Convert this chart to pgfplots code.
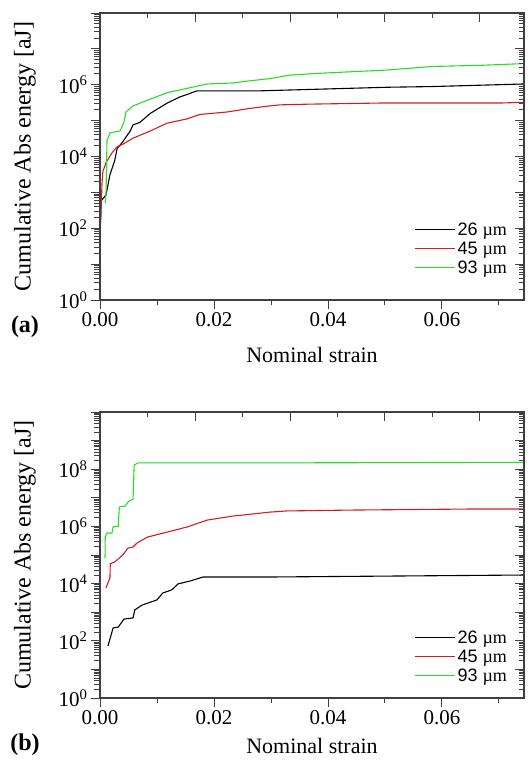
\documentclass[border=0pt]{standalone}
\usepackage{fontspec}
\setmainfont{Liberation Serif}
\newfontfamily\legfont{Liberation Sans}
\usepackage{pgfplots}
\pgfplotsset{compat=1.18}
\definecolor{cred}{RGB}{210,30,30}
\definecolor{cgreen}{RGB}{40,220,40}
\begin{document}
\begin{tikzpicture}
\path[use as bounding box] (-100pt,0pt) rectangle (427pt,770pt);
% ---------------- panel (a)
\begin{axis}[at={(0pt,470pt)}, anchor=south west,
  scale only axis, width=424pt, height=287pt,
  xmin=0, xmax=0.0744, ymode=log, ymin=1, ymax=1e8,
  axis line style={line width=1.1pt, black!75},
  every tick/.append style={line width=0.9pt, black!75},
  major tick length=9pt, minor tick length=5.5pt,
  tick label style={font=\fontsize{21}{24}\selectfont},
  xlabel style={font=\fontsize{22}{25}\selectfont},
  ylabel style={font=\fontsize{24}{27}\selectfont},
  xtick pos=left, ytick pos=left, tick align=outside,
  scaled x ticks=false,
  xtick={0,0.02,0.04,0.06}, minor xtick={0.01,0.03,0.05,0.07},
  xticklabel style={/pgf/number format/fixed, /pgf/number format/fixed zerofill, /pgf/number format/precision=2, /pgf/number format/assume math mode=true},
  xlabel={Nominal strain},
  ylabel={Cumulative Abs energy [aJ]},
  ylabel style={at={(axis description cs:-0.177,0.5)}, anchor=center},
  xlabel style={at={(axis description cs:0.5,0)}, yshift=-55pt, anchor=center},
  legend style={draw=none, fill=none, at={(rel axis cs:0.965,0.08)}, anchor=south east,
    font=\legfont\fontsize{18}{20}\selectfont, row sep=1pt, inner sep=0pt},
  legend cell align=left,
  legend image code/.code={\draw[#1] (0pt,0pt) -- (40pt,0pt);},
  ytick={1,10,100,1000,10000,100000,1000000,10000000,100000000},
  yticklabels={10\textsuperscript{0},,10\textsuperscript{2},,10\textsuperscript{4},,10\textsuperscript{6},,}]
\addplot[black, line width=1.1pt] coordinates {
(0.0001,150) (0.0002,575) (0.00105,850) (0.00175,3090) (0.0026,7940) (0.003,16600)
(0.0039,24500) (0.0053,51300) (0.0058,75900) (0.007,89100) (0.0088,158000)
(0.0118,309000) (0.014,457000) (0.0153,537000) (0.017,676000) (0.0281,676000)
(0.0504,851000) (0.0584,891000) (0.0744,1050000)};
\addlegendentry{26 {\rmfamily µm}}
\addplot[cred, line width=1.1pt] coordinates {
(0.00005,100) (0.0002,324) (0.00035,1740) (0.0005,3800) (0.00105,6760) (0.0021,12600)
(0.003,18600) (0.004,21900) (0.0058,32400) (0.0088,51300) (0.0118,85100)
(0.0153,112000) (0.0175,148000) (0.0223,174000) (0.0263,219000) (0.0298,257000)
(0.0316,275000) (0.0368,288000) (0.0491,309000) (0.0702,309000) (0.0744,324000)};
\addlegendentry{45 {\rmfamily µm}}
\addplot[cgreen, line width=1.1pt] coordinates {
(0.0009,500) (0.00105,850) (0.00123,27500) (0.00175,45700) (0.0035,51300)
(0.0042,89000) (0.00456,174000) (0.0058,257000) (0.0082,363000) (0.0118,603000)
(0.0153,794000) (0.0188,1050000) (0.0233,1120000) (0.0258,1260000) (0.0298,1480000)
(0.0333,1860000) (0.0386,2090000) (0.0504,2570000) (0.0584,3240000) (0.0667,3470000)
(0.0744,3890000)};
\addlegendentry{93 {\rmfamily µm}}
\end{axis}
\begin{axis}[at={(0pt,470pt)}, anchor=south west,
  scale only axis, width=424pt, height=287pt,
  xmin=0, xmax=0.0744, ymode=log, ymin=1, ymax=1e8,
  axis line style={line width=1.1pt, black!75},
  every tick/.append style={line width=0.9pt, black!75},
  major tick length=9pt, minor tick length=5.5pt,
  xtick pos=right, ytick pos=right, tick align=inside,
  scaled x ticks=false,
  xtick={0,0.0166667,0.0333333,0.05,0.0666667},
  minor xtick={0.0083333,0.025,0.0416667,0.0583333},
  xticklabels={}, yticklabels={},
  ytick={1,10,100,1000,10000,100000,1000000,10000000,100000000}]
\addplot[draw=none] coordinates {(0.01,10)};
\end{axis}
% ---------------- panel (b)
\begin{axis}[at={(0pt,72pt)}, anchor=south west,
  scale only axis, width=424pt, height=286pt,
  xmin=0, xmax=0.0744, ymode=log, ymin=1, ymax=1e10,
  axis line style={line width=1.1pt, black!75},
  every tick/.append style={line width=0.9pt, black!75},
  major tick length=9pt, minor tick length=5.5pt,
  tick label style={font=\fontsize{21}{24}\selectfont},
  xlabel style={font=\fontsize{22}{25}\selectfont},
  ylabel style={font=\fontsize{24}{27}\selectfont},
  xtick pos=left, ytick pos=left, tick align=outside,
  scaled x ticks=false,
  xtick={0,0.02,0.04,0.06}, minor xtick={0.01,0.03,0.05,0.07},
  xticklabel style={/pgf/number format/fixed, /pgf/number format/fixed zerofill, /pgf/number format/precision=2, /pgf/number format/assume math mode=true},
  xlabel={Nominal strain},
  ylabel={Cumulative Abs energy [aJ]},
  ylabel style={at={(axis description cs:-0.177,0.5)}, anchor=center},
  xlabel style={at={(axis description cs:0.5,0)}, yshift=-48pt, anchor=center},
  legend style={draw=none, fill=none, at={(rel axis cs:0.965,0.045)}, anchor=south east,
    font=\legfont\fontsize{18}{20}\selectfont, row sep=1pt, inner sep=0pt},
  legend cell align=left,
  legend image code/.code={\draw[#1] (0pt,0pt) -- (40pt,0pt);},
  ytick={1,10,100,1000,10000,100000,1000000,10000000,100000000,1000000000,10000000000},
  yticklabels={10\textsuperscript{0},,10\textsuperscript{2},,10\textsuperscript{4},,10\textsuperscript{6},,10\textsuperscript{8},,}]
\addplot[black, line width=1.1pt] coordinates {
(0.0014,66) (0.0023,282) (0.0032,302) (0.0042,575) (0.0058,631) (0.0061,1200)
(0.0074,1780) (0.01,2690) (0.011,4680) (0.0126,6030) (0.0137,9770) (0.0158,12300)
(0.0181,17000) (0.0298,17000) (0.0744,19950)};
\addlegendentry{26 {\rmfamily µm}}
\addplot[cred, line width=1.1pt] coordinates {
(0.00105,7080) (0.00175,15800) (0.0018,49000) (0.0026,57500) (0.004,100000)
(0.0049,174000) (0.0058,191000) (0.0065,263000) (0.0084,427000) (0.0118,631000)
(0.0153,955000) (0.0188,1660000) (0.0233,2290000) (0.0298,3160000) (0.0328,3470000)
(0.0439,3720000) (0.0661,4070000) (0.0744,4070000)};
\addlegendentry{45 {\rmfamily µm}}
\addplot[cgreen, line width=1.1pt] coordinates {
(0.00088,79400) (0.00092,427000) (0.00123,589000) (0.0021,589000) (0.0023,955000)
(0.0032,1020000) (0.0034,4790000) (0.0044,5130000) (0.0049,7080000) (0.0058,9120000)
(0.006,141000000) (0.0067,166000000) (0.0298,166000000) (0.0744,174000000)};
\addlegendentry{93 {\rmfamily µm}}
\end{axis}
\begin{axis}[at={(0pt,72pt)}, anchor=south west,
  scale only axis, width=424pt, height=286pt,
  xmin=0, xmax=0.0744, ymode=log, ymin=1, ymax=1e10,
  axis line style={line width=1.1pt, black!75},
  every tick/.append style={line width=0.9pt, black!75},
  major tick length=9pt, minor tick length=5.5pt,
  xtick pos=right, ytick pos=right, tick align=inside,
  scaled x ticks=false,
  xtick={0,0.0166667,0.0333333,0.05,0.0666667},
  minor xtick={0.0083333,0.025,0.0416667,0.0583333},
  xticklabels={}, yticklabels={},
  ytick={1,10,100,1000,10000,100000,1000000,10000000,100000000,1000000000,10000000000}]
\addplot[draw=none] coordinates {(0.01,10)};
\end{axis}
\node[font=\bfseries\fontsize{24}{26}\selectfont] at (-75pt,443pt) {(a)};
\node[font=\bfseries\fontsize{24}{26}\selectfont] at (-75pt,25pt) {(b)};
\end{tikzpicture}
\end{document}
